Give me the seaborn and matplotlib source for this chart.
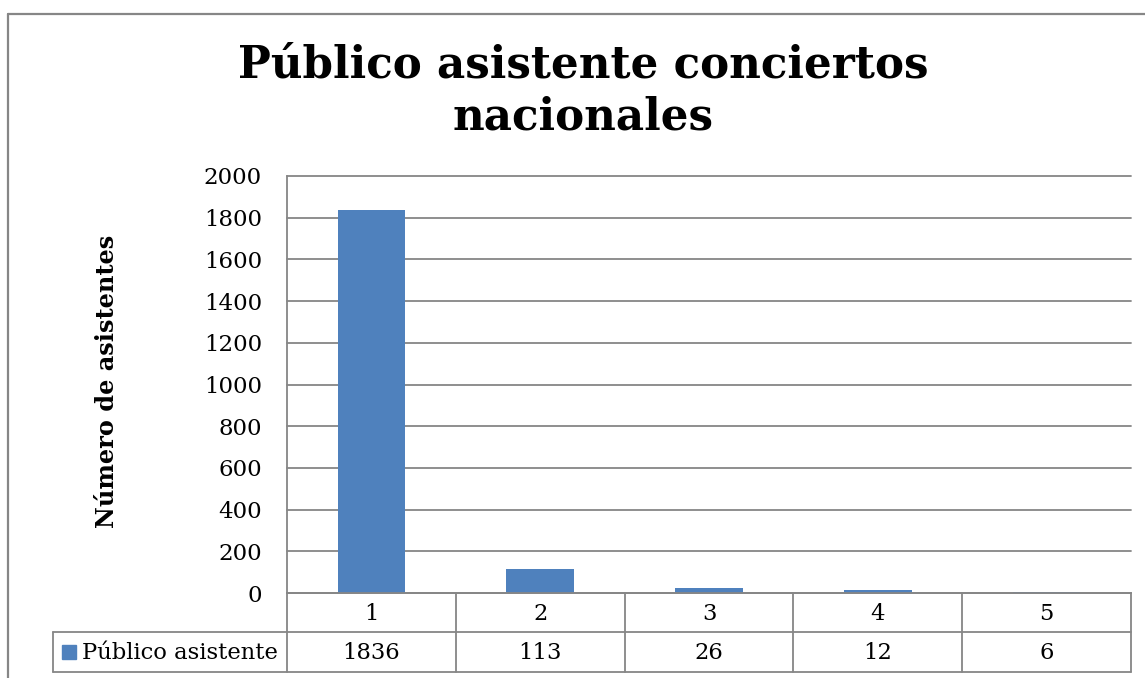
import matplotlib
matplotlib.use("Agg")
import matplotlib.pyplot as plt
import matplotlib.transforms as mtransforms
import seaborn as sns
import pandas as pd

# Attendance per concert group
categories = ["1", "2", "3", "4", "5"]
attendance = [1836, 113, 26, 12, 6]
series_name = "Público asistente"
title_lines = ["Público asistente conciertos", "nacionales"]
y_label = "Número de asistentes"
y_ticks = list(range(0, 2001, 200))

BAR = "#4F81BD"
GRID = "#868686"
FONT = "DejaVu Serif"
TICK_FS = 16.5
TABLE_FS = 16.3

sns.set_theme(style="white")
plt.rcParams["font.family"] = [FONT, "DejaVu Sans"]

W, H = 1145, 678
fig = plt.figure(figsize=(W / 100, H / 100), dpi=100)
fig.patch.set_facecolor("white")


def fx(px):
    return px / W


def fy(py):
    return 1 - py / H


# plot area in pixel coordinates
L, R, T, B = 287, 1131, 176, 593
ax = fig.add_axes([fx(L), fy(B), (R - L) / W, (B - T) / H])

df = pd.DataFrame({"cat": categories, "val": attendance})
sns.barplot(data=df, x="cat", y="val", color=BAR, width=0.4, saturation=1,
            edgecolor=BAR, linewidth=0, ax=ax)

ax.set_xlim(-0.5, len(categories) - 0.5)
ax.set_ylim(0, 2000)
ax.set_yticks(y_ticks)
ax.set_yticklabels([str(t) for t in y_ticks], fontsize=TICK_FS, color="black")
ax.tick_params(axis="y", length=0, pad=18)
ax.set_xticks([])
ax.set_xlabel("")
ax.set_ylabel("")
ax.grid(axis="y", color=GRID, linewidth=1.3)
for gl in ax.get_ygridlines():
    gl.set_clip_on(False)
ax.set_axisbelow(True)
for side in ["top", "right"]:
    ax.spines[side].set_visible(False)
for side in ["left", "bottom"]:
    ax.spines[side].set_color(GRID)
    ax.spines[side].set_linewidth(1.3)

# data table below the axis
row1_bottom = 632
row2_bottom = 672
legend_left = 53
ax_h = B - T
ax_w = R - L


def ay(py):
    return (B - py) / ax_h


def axx(px):
    return (px - L) / ax_w


line_kw = dict(color=GRID, linewidth=1.3, transform=ax.transAxes, clip_on=False)
n = len(categories)
for k in range(n + 1):
    ax.plot([k / n, k / n], [0, ay(row2_bottom)], **line_kw)
ax.plot([axx(legend_left), 1], [ay(row1_bottom)] * 2, **line_kw)
ax.plot([axx(legend_left), 1], [ay(row2_bottom)] * 2, **line_kw)
ax.plot([axx(legend_left)] * 2, [ay(row1_bottom), ay(row2_bottom)], **line_kw)

blend = mtransforms.blended_transform_factory(ax.transData, ax.transAxes)
row1_mid = ay((B + row1_bottom) / 2 + 2)
row2_mid = ay((row1_bottom + row2_bottom) / 2 + 1)
for i, (c, v) in enumerate(zip(categories, attendance)):
    ax.text(i, row1_mid, c, transform=blend, ha="center", va="center",
            fontsize=TABLE_FS, color="black", clip_on=False)
    ax.text(i, row2_mid, f"{v}", transform=blend, ha="center", va="center",
            fontsize=TABLE_FS, color="black", clip_on=False)

# legend key inside the table
ax.add_patch(plt.Rectangle((axx(62), ay(659)), 14 / ax_w, 14 / ax_h,
                           transform=ax.transAxes, color=BAR, clip_on=False))
ax.text(axx(82), row2_mid, series_name, transform=ax.transAxes, ha="left",
        va="center", fontsize=TABLE_FS, color="black", clip_on=False)

# title and axis label
fig.text(fx(583), fy(78), title_lines[0], ha="center", va="baseline",
         fontsize=31.4, fontweight="bold", color="black")
fig.text(fx(583), fy(130), title_lines[1], ha="center", va="baseline",
         fontsize=31.4, fontweight="bold", color="black")
fig.text(fx(107), fy(381), y_label, rotation=90, ha="center", va="center",
         fontsize=17.3, fontweight="bold", color="black")

# chart frame
fig.add_artist(plt.Line2D([fx(7.5), 1], [fy(14), fy(14)], color=GRID, linewidth=1.6))
fig.add_artist(plt.Line2D([fx(7.5), fx(7.5)], [fy(14), 0], color=GRID, linewidth=1.6))

fig.savefig("out.png", dpi=100)
